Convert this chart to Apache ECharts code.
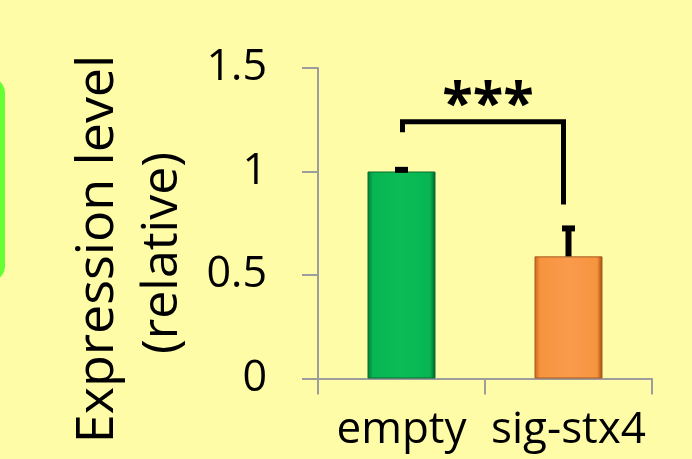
<!DOCTYPE html>
<html>
<head>
<meta charset="utf-8">
<script src="https://cdn.jsdelivr.net/npm/echarts@6/dist/echarts.min.js"></script>
<style>
html,body{margin:0;padding:0;background:#FFFCA8;}
#c{width:692px;height:459px;}
</style>
</head>
<body>
<div id="c"></div>
<script>
// ---- data ----
const categories = ['empty', 'sig-stx4'];
const means = [1.0, 0.59];
const errors = [0.008, 0.135];
const yTickValues = [0, 0.5, 1, 1.5];
const sigLabel = '***';
// bracket: [left category, right category], left end, top, right end (values)
const bracketCats = [0, 1];
const bracketVals = [1.19, 1.24, 0.84];
const titleLines = ['Expression level', '(relative)'];

const FONT = '"Open Sans", sans-serif';
const chart = echarts.init(document.getElementById('c'), null, {renderer: 'canvas'});

const option = {
  backgroundColor: '#FFFCA8',
  animation: false,
  grid: {left: 318, right: 40, top: 68, bottom: 80.5, containLabel: false},
  xAxis: {
    type: 'category',
    data: categories,
    boundaryGap: true,
    axisLine: {lineStyle: {color: '#9d9d9d', width: 2}},
    axisTick: {show: true, length: 16, lineStyle: {color: '#9d9d9d', width: 2}},
    axisLabel: {color: '#000', fontFamily: FONT, fontSize: 44, margin: 30,
                interval: 0, hideOverlap: false}
  },
  yAxis: {
    type: 'value',
    min: yTickValues[0],
    max: yTickValues[yTickValues.length - 1],
    interval: 0.5,
    splitLine: {show: false},
    axisLine: {show: true, lineStyle: {color: '#9d9d9d', width: 2}},
    axisTick: {show: true, length: 16, lineStyle: {color: '#9d9d9d', width: 2}},
    axisLabel: {color: '#000', fontFamily: FONT, fontSize: 43, margin: 51}
  },
  series: [
    {
      type: 'bar',
      data: means.map((v, i) => ({
        value: v,
        itemStyle: {
          color: new echarts.graphic.LinearGradient(0, 0, 1, 0, i === 0 ? [
            {offset: 0, color: '#007a35'},
            {offset: 0.08, color: '#07b552'},
            {offset: 0.5, color: '#0abd56'},
            {offset: 0.92, color: '#07b552'},
            {offset: 1, color: '#005f28'}
          ] : [
            {offset: 0, color: '#c8641c'},
            {offset: 0.08, color: '#f6943f'},
            {offset: 0.5, color: '#fa9a4c'},
            {offset: 0.92, color: '#f6943f'},
            {offset: 1, color: '#9c4a10'}
          ]),
          borderColor: i === 0 ? '#0a6b33' : '#a85a1e',
          borderWidth: 1
        }
      })),
      barWidth: 68,
      z: 2
    },
    {
      type: 'custom',
      z: 5,
      data: means.map((m, i) => [i, m, errors[i]]),
      renderItem: function (params, api) {
        const i = api.value(0), m = api.value(1), e = api.value(2);
        const base = api.coord([i, m]);
        const top = api.coord([i, m + e]);
        const x = base[0];
        return {
          type: 'group',
          children: [
            {type: 'line', shape: {x1: x, y1: base[1], x2: x, y2: top[1]},
             style: {stroke: '#000', lineWidth: 6}},
            {type: 'rect', shape: {x: x - 6.5, y: top[1] - 3, width: 13, height: 6},
             style: {fill: '#000'}}
          ]
        };
      }
    },
    {
      type: 'custom',
      z: 6,
      data: [[bracketCats[0], bracketCats[1], bracketVals[0], bracketVals[1], bracketVals[2]]],
      renderItem: function (params, api) {
        const pL = api.coord([api.value(0), api.value(2)]);
        const pT = api.coord([api.value(0), api.value(3)]);
        const pR = api.coord([api.value(1), api.value(4)]);
        const xl = pL[0] + 1, xr = pR[0] - 5;
        return {
          type: 'group',
          children: [
            {type: 'polyline',
             shape: {points: [[xl, pL[1]], [xl, pT[1]], [xr, pT[1]], [xr, pR[1]]]},
             style: {stroke: '#000', fill: null, lineWidth: 5, lineJoin: 'miter', lineCap: 'butt'}},
            {type: 'text',
             style: {text: sigLabel, x: (xl + xr) / 2 + 5, y: pT[1] + 12,
                     textAlign: 'center', textVerticalAlign: 'bottom',
                     font: 'bold 56px ' + FONT, fill: '#000'}}
          ]
        };
      }
    }
  ],
  graphic: [
    {type: 'rect', shape: {x: -30, y: 77, width: 35, height: 205, r: 16},
     style: {fill: '#66ff33'}, silent: true},
    {type: 'text', x: 98, y: 249, rotation: Math.PI / 2,
     style: {text: titleLines[0], font: '52px ' + FONT, fill: '#000',
             textAlign: 'center', textVerticalAlign: 'middle'}},
    {type: 'text', x: 163, y: 253, rotation: Math.PI / 2,
     style: {text: titleLines[1], font: '50px ' + FONT, fill: '#000',
             textAlign: 'center', textVerticalAlign: 'middle'}}
  ]
};
chart.setOption(option);
</script>
</body>
</html>
